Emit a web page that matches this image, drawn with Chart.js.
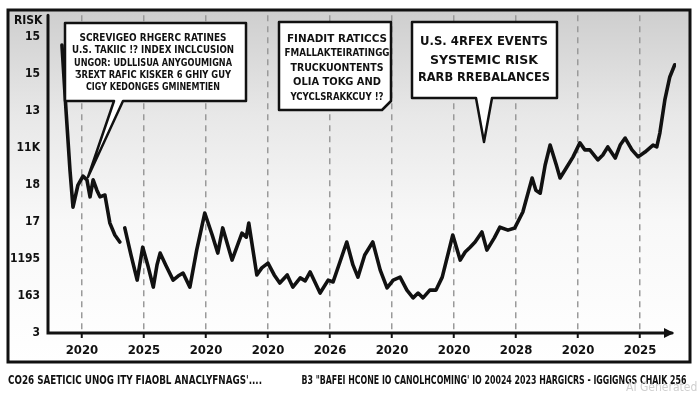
<!DOCTYPE html>
<html>
<head>
<meta charset="utf-8">
<script src="https://cdn.jsdelivr.net/npm/chart.js@4"></script>
<style>
  html, body { margin: 0; padding: 0; background: #fff; }
</style>
</head>
<body>
<canvas id="riskChart" width="700" height="393"></canvas>
<script>
// time position (in tick units) and risk index level (in y tick units)
const period = [0.677, 0.742, 0.806, 0.855, 0.935, 1.016, 1.08, 1.13, 1.18, 1.24, 1.29, 1.37, 1.45, 1.53, 1.61, 1.65, 1.69,
  1.79, 1.89, 1.98, 2.06, 2.15, 2.21, 2.26, 2.35, 2.47, 2.55, 2.63, 2.74, 2.85, 2.98, 3.10, 3.19, 3.27, 3.42, 3.58,
  3.65, 3.69, 3.82, 3.90, 4.00, 4.10, 4.19, 4.31, 4.40, 4.52, 4.60, 4.68, 4.84, 4.97, 5.05, 5.16, 5.27, 5.37, 5.45,
  5.56, 5.69, 5.81, 5.92, 6.02, 6.13, 6.24, 6.34, 6.42, 6.50, 6.61, 6.71, 6.81, 6.98, 7.10, 7.18, 7.26, 7.34, 7.45,
  7.53, 7.65, 7.74, 7.87, 7.98, 8.11, 8.26, 8.32, 8.39, 8.47, 8.55, 8.65, 8.71, 8.81, 8.92, 9.03, 9.11, 9.19, 9.32,
  9.40, 9.48, 9.60, 9.68, 9.76, 9.87, 9.97, 10.08, 10.21, 10.27, 10.32, 10.40, 10.48, 10.56];
const riskIndex = [7.78, 6.03, 4.41, 3.40, 4.0, 4.24, 4.14, 3.68, 4.14, 3.86, 3.68, 3.73, 2.97, 2.65, 2.46, null, 2.84,
  2.11, 1.43, 2.32, 1.84, 1.24, 1.84, 2.16, 1.84, 1.43, 1.54, 1.62, 1.24, 2.24, 3.24, 2.65, 2.16, 2.84, 1.97, 2.70,
  2.59, 2.97, 1.57, 1.76, 1.89, 1.57, 1.35, 1.57, 1.24, 1.49, 1.41, 1.65, 1.08, 1.43, 1.38, 1.92, 2.46, 1.84, 1.51,
  2.11, 2.46, 1.70, 1.22, 1.43, 1.51, 1.16, 0.95, 1.08, 0.95, 1.16, 1.16, 1.51, 2.65, 1.97, 2.19, 2.32, 2.46, 2.73,
  2.24, 2.57, 2.86, 2.78, 2.84, 3.27, 4.19, 3.86, 3.78, 4.54, 5.08, 4.54, 4.19, 4.46, 4.76, 5.14, 4.95, 4.95, 4.68,
  4.81, 5.03, 4.73, 5.08, 5.27, 4.95, 4.76, 4.89, 5.08, 5.03, 5.41, 6.30, 6.92, 7.25];

const xTicks = [1, 2, 3, 4, 5, 6, 7, 8, 9, 10];
const xLabels = ['2020', '2025', '2020', '2020', '2026', '2020', '2020', '2028', '2020', '2025'];
const yTicks = [0, 1, 2, 3, 4, 5, 6, 7, 8];
const yLabels = ['3', '163', '1195', '17', '18', '11K', '13', '15', '15'];

const noteLeft = ['SCREVIGEO RHGERC RATINES', 'U.S. TAKIIC !? INDEX INCLCUSION', 'UNGOR: UDLLISUA ANYGOUMIGNA',
  'ƷREXT RAFIC KISKER 6 GHIY GUY', 'CIGY KEDONGES GMINEMTIEN'];
const noteMid = ['FINADIT RATICCS', 'FMALLAKTEIRATINGG', 'TRUCKUONTENTS', 'OLIA TOKG AND', 'YCYCLSRAKKCUY !?'];
const noteRight = ['U.S. 4RFEX EVENTS', 'SYSTEMIC RISK', 'RARB RREBALANCES'];
const captionLeft = "CO26 SAETICIC UNOG ITY FIAOBL ANACLYFNAGS'....";
const captionRight = 'B3 "BAFEI HCONE IO CANOLHCOMING\' IO 20024 2023 HARGICRS - IGGIGNGS CHAIK 256';

const HAND = "'DejaVu Sans Condensed', 'DejaVu Sans', sans-serif";

// draw text centred at cx and squeezed/stretched to width w
function fitText(ctx, str, cx, cy, w, size) {
  ctx.save();
  ctx.fillStyle = '#111';
  ctx.font = 'bold ' + size + 'px ' + HAND;
  ctx.textBaseline = 'middle';
  ctx.textAlign = 'left';
  const m = ctx.measureText(str).width;
  ctx.translate(cx - w / 2, cy);
  ctx.scale(w / m, 1);
  ctx.fillText(str, 0, 0);
  ctx.restore();
}

function bubble(ctx, l, t, r, b, tail) {
  ctx.save();
  ctx.beginPath();
  ctx.moveTo(l, t);
  ctx.lineTo(r, t);
  if (tail && tail.cut) {
    ctx.lineTo(r, b - tail.cut);
    ctx.lineTo(r - tail.cut, b);
  } else {
    ctx.lineTo(r, b);
  }
  if (tail && tail.tip) {
    ctx.lineTo(tail.b2, b);
    ctx.lineTo(tail.tip[0], tail.tip[1]);
    ctx.lineTo(tail.b1, b);
  }
  ctx.lineTo(l, b);
  ctx.closePath();
  ctx.fillStyle = '#fff';
  ctx.fill();
  ctx.lineWidth = 2.5;
  ctx.lineJoin = 'round';
  ctx.strokeStyle = '#111';
  ctx.stroke();
  ctx.restore();
}

const sketch = {
  id: 'sketch',
  beforeDraw(chart) {
    const ctx = chart.ctx;
    ctx.save();
    ctx.fillStyle = '#fff';
    ctx.fillRect(0, 0, chart.width, chart.height);
    const g = ctx.createLinearGradient(0, 10, 0, 362);
    g.addColorStop(0, '#cecece');
    g.addColorStop(0.3, '#e8e8e8');
    g.addColorStop(0.6, '#f8f8f8');
    g.addColorStop(1, '#ffffff');
    ctx.fillStyle = g;
    ctx.fillRect(8, 10, 682, 352);
    ctx.restore();
  },
  afterDraw(chart) {
    const ctx = chart.ctx;
    const a = chart.chartArea;
    ctx.save();
    ctx.strokeStyle = '#111';
    ctx.fillStyle = '#111';
    ctx.lineCap = 'round';

    // axes
    ctx.lineWidth = 3;
    ctx.beginPath();
    ctx.moveTo(a.left, a.top);
    ctx.lineTo(a.left, a.bottom);
    ctx.lineTo(672, a.bottom);
    ctx.stroke();
    ctx.beginPath();
    ctx.moveTo(674, a.bottom);
    ctx.lineTo(664, a.bottom - 5);
    ctx.lineTo(664, a.bottom + 5);
    ctx.closePath();
    ctx.fill();

    // frame
    ctx.lineWidth = 3;
    ctx.strokeRect(8, 10, 682, 352);

    // call-outs
    bubble(ctx, 65, 23, 246, 101, { b1: 114, b2: 123, tip: [88, 177] });
    noteLeft.forEach((s, i) => {
      const w = [147, 162, 158, 156, 134][i];
      fitText(ctx, s, 153, 38 + i * 12.4, w, 11);
    });
    bubble(ctx, 279, 22, 391, 110, { cut: 9 });
    noteMid.forEach((s, i) => {
      const w = [100, 105, 93, 88, 93][i];
      fitText(ctx, s, 337, 39 + i * 14.5, w, 11);
    });
    bubble(ctx, 412, 22, 557, 98, { b1: 476, b2: 492, tip: [484, 142] });
    noteRight.forEach((s, i) => {
      const w = [128, 108, 132][i];
      fitText(ctx, s, 484, [42, 61, 78][i], w, 13);
    });

    // axis title and captions
    ctx.fillStyle = '#111';
    ctx.font = 'bold 12px ' + HAND;
    ctx.textBaseline = 'middle';
    ctx.textAlign = 'left';
    ctx.fillText('RISK', 14, 21);
    fitText(ctx, captionLeft, 8 + 127, 381, 254, 13);
    fitText(ctx, captionRight, 302 + 192, 381, 385, 12);
    ctx.fillStyle = '#cfcfcf';
    ctx.font = '12px ' + HAND;
    ctx.fillText('AI Generated', 626, 388);
    ctx.restore();
  }
};

new Chart(document.getElementById('riskChart'), {
  type: 'line',
  data: {
    datasets: [{
      data: period.map((x, i) => ({ x: x, y: riskIndex[i] })),
      borderColor: '#111',
      borderWidth: 3.6,
      borderJoinStyle: 'round',
      borderCapStyle: 'round',
      pointRadius: 0,
      tension: 0,
      spanGaps: false
    }]
  },
  options: {
    responsive: false,
    animation: false,
    layout: { padding: { left: 0, top: 15, right: 24, bottom: 30 } },
    plugins: { legend: { display: false }, tooltip: { enabled: false } },
    scales: {
      x: {
        type: 'linear',
        min: 0.452,
        max: 10.58,
        afterBuildTicks: s => { s.ticks = xTicks.map(v => ({ value: v })); },
        afterFit: s => { s.height = 30; },
        ticks: {
          callback: (v, i) => xLabels[i],
          color: '#111',
          font: { family: HAND, size: 13, weight: 'bold' },
          padding: 5,
          maxRotation: 0,
          autoSkip: false
        },
        grid: { color: '#9a9a9a', lineWidth: 1.5, tickLength: 5, tickColor: '#111', tickWidth: 2 },
        border: { display: false, dash: [6, 5] }
      },
      y: {
        min: 0,
        max: 8.59,
        afterBuildTicks: s => { s.ticks = yTicks.map(v => ({ value: v })); },
        afterFit: s => { s.width = 48; },
        ticks: {
          callback: (v, i) => yLabels[i],
          color: '#111',
          font: { family: HAND, size: 12, weight: 'bold' },
          padding: 8
        },
        grid: { display: false, drawTicks: false },
        border: { display: false }
      }
    }
  },
  plugins: [sketch]
});
</script>
</body>
</html>
